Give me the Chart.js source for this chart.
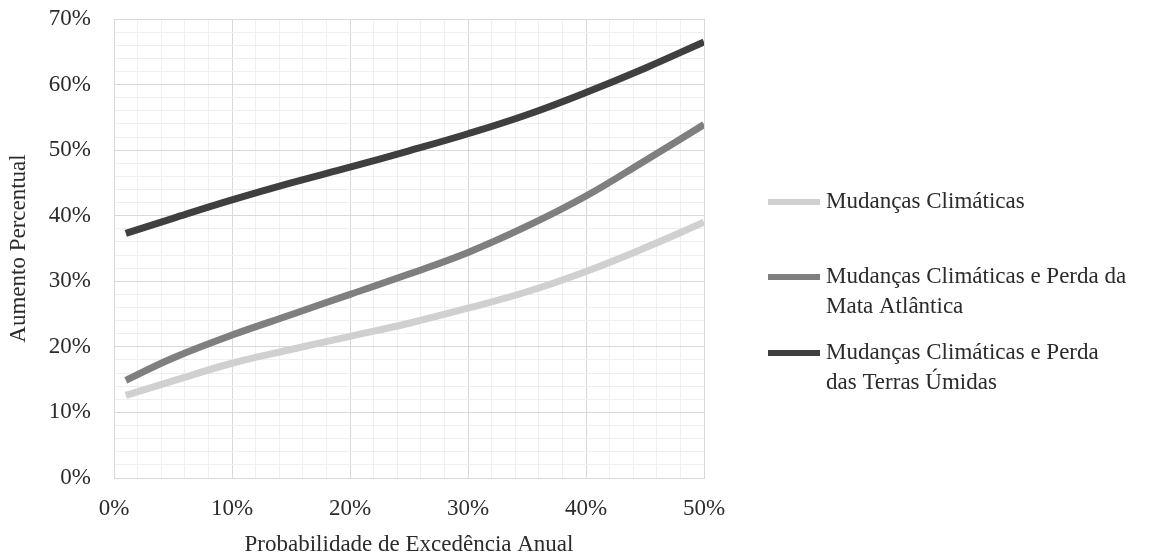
<!DOCTYPE html>
<html lang="pt">
<head>
<meta charset="utf-8">
<title>Aumento Percentual por Probabilidade de Excedência Anual</title>
<script src="https://cdn.jsdelivr.net/npm/chart.js@4/dist/chart.umd.min.js"></script>
<style>
  html, body { margin: 0; padding: 0; background: #ffffff; }
  #wrap { position: relative; width: 1164px; height: 559px; }
</style>
</head>
<body>
<div id="wrap"><canvas id="chart" width="1164" height="559"></canvas></div>
<script>
// Annual exceedance probability (%) at which each curve is sampled
const probabilidade = [1, 5, 10, 15, 20, 25, 30, 35, 40, 45, 50];

// Percentage increase for each scenario
const mudancasClimaticas = [12.6, 14.8, 17.5, 19.6, 21.6, 23.6, 25.9, 28.4, 31.5, 35.1, 39.0];
const perdaMataAtlantica = [14.9, 18.3, 21.8, 24.9, 28.0, 31.1, 34.4, 38.4, 43.0, 48.4, 53.9];
const perdaTerrasUmidas  = [37.3, 39.6, 42.4, 45.0, 47.4, 49.9, 52.5, 55.4, 58.8, 62.5, 66.5];

// Legend text, split into the lines it is printed on
const nomesSeries = [
  ['Mudanças Climáticas'],
  ['Mudanças Climáticas e Perda da', 'Mata Atlântica'],
  ['Mudanças Climáticas e Perda', 'das Terras Úmidas']
];
const coresSeries = ['#d0d0d0', '#7f7f7f', '#3f3f3f'];

const FONT = '"Liberation Serif", "Times New Roman", serif';
const SIZE = 23;
const TEXT = '#2b2b2b';

function pontos(ys) {
  return probabilidade.map((x, i) => ({ x: x, y: ys[i] }));
}

const serie = [mudancasClimaticas, perdaMataAtlantica, perdaTerrasUmidas];
const datasets = serie.map((ys, i) => ({
  label: nomesSeries[i].join(' '),
  data: pontos(ys),
  borderColor: coresSeries[i],
  backgroundColor: coresSeries[i],
  borderWidth: 7,
  borderCapStyle: 'butt',
  pointRadius: 0,
  fill: false,
  tension: 0.4
}));

// Side legend with wrapped labels
const legendaLateral = {
  id: 'legendaLateral',
  afterDraw(chart) {
    const ctx = chart.ctx;
    const topos = [202, 277, 353];
    const passo = 30;
    ctx.save();
    ctx.font = SIZE + 'px ' + FONT;
    ctx.textBaseline = 'middle';
    ctx.textAlign = 'left';
    chart.data.datasets.forEach((ds, i) => {
      const y = topos[i];
      ctx.fillStyle = ds.borderColor;
      ctx.fillRect(768, y - 3, 52, 6);
      ctx.fillStyle = TEXT;
      nomesSeries[i].forEach((linha, k) => {
        ctx.fillText(linha, 826, y + k * passo);
      });
    });
    ctx.restore();
  }
};

function corGrade(ctx) {
  const v = ctx.tick ? ctx.tick.value : 0;
  return (Math.round(v) % 10 === 0) ? '#d9d9d9' : '#efefef';
}

function rotulo(v) {
  return Math.round(v) % 10 === 0 ? Math.round(v) + '%' : '';
}

new Chart(document.getElementById('chart'), {
  type: 'line',
  data: { datasets: datasets },
  options: {
    responsive: false,
    animation: false,
    layout: { padding: { top: 19, right: 460, bottom: 0, left: 0 } },
    plugins: {
      legend: { display: false },
      tooltip: { enabled: false }
    },
    scales: {
      x: {
        type: 'linear',
        min: 0,
        max: 50,
        grid: { color: corGrade, drawTicks: false },
        border: { color: '#d9d9d9' },
        ticks: {
          stepSize: 2,
          autoSkip: false,
          maxRotation: 0,
          padding: 17,
          color: TEXT,
          font: { family: FONT, size: SIZE },
          callback: rotulo
        },
        title: {
          display: true,
          text: 'Probabilidade de Excedência Anual',
          color: TEXT,
          font: { family: FONT, size: SIZE },
          padding: { top: 0, bottom: 0 }
        },
        afterFit(scale) { scale.height = 81; }
      },
      y: {
        type: 'linear',
        min: 0,
        max: 70,
        grid: { color: corGrade, drawTicks: false },
        border: { color: '#d9d9d9' },
        ticks: {
          stepSize: 2,
          autoSkip: false,
          padding: 23,
          color: TEXT,
          font: { family: FONT, size: SIZE },
          callback: rotulo
        },
        title: {
          display: true,
          text: 'Aumento Percentual',
          color: TEXT,
          font: { family: FONT, size: SIZE },
          padding: { top: 5, bottom: 0 }
        },
        afterFit(scale) {
          scale.width = 114;
          scale.paddingTop = 14;
          scale.paddingBottom = 14;
        }
      }
    }
  },
  plugins: [legendaLateral]
});
</script>
</body>
</html>
